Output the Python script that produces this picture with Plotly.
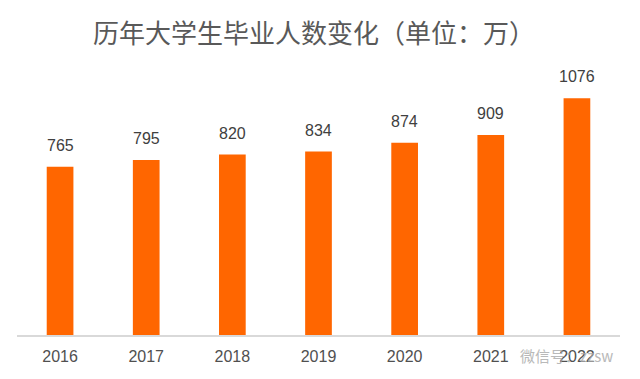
import plotly.graph_objects as go

years = ["2016", "2017", "2018", "2019", "2020", "2021", "2022"]
graduates = [765, 795, 820, 834, 874, 909, 1076]
title_text = "历年大学生毕业人数变化（单位：万）"
watermark_text = "微信号：zzsw"

NUM_FONT = "Liberation Sans, Arial, sans-serif"

fig = go.Figure(go.Bar(
    x=years,
    y=graduates,
    marker=dict(color="#FF6600", line=dict(width=0)),
))

# value labels: category axis -> reference the category by its index
for i, v in enumerate(graduates):
    fig.add_annotation(
        x=i, y=v, text=str(v), showarrow=False,
        xanchor="center", yanchor="bottom", yshift=11,
        font=dict(family=NUM_FONT, size=16, color="#404040"),
    )

# faint watermark at the lower right, as in the source image
fig.add_annotation(
    xref="paper", yref="paper", x=(518 - 8 - 9) / 603, y=-(355 - 335) / 264,
    xanchor="left", yanchor="middle", text=watermark_text, showarrow=False,
    font=dict(family="Noto Sans CJK SC, sans-serif", size=15, color="#A8A8A8"),
    opacity=0.8,
)

# page body has an 8px margin, so the figure is offset by 8px
fig.update_layout(
    width=632, height=371,
    margin=dict(l=9, r=20, t=63, b=44),
    paper_bgcolor="white",
    plot_bgcolor="white",
    bargap=0.69,
    showlegend=False,
    title=dict(
        text=title_text,
        x=306 / 632, xanchor="center",
        y=1 - 26 / 371, yanchor="middle",
        font=dict(family="Noto Sans CJK SC, sans-serif", size=26, color="#595959"),
    ),
    xaxis=dict(
        type="category", range=[-0.5, len(years) - 0.5], autorange=False,
        showline=True, linecolor="#D9D9D9", linewidth=1.5,
        showgrid=False, ticks="outside", ticklen=6, tickcolor="rgba(0,0,0,0)",
        tickfont=dict(family=NUM_FONT, size=16, color="#505050"),
    ),
    yaxis=dict(
        range=[0, 1200], visible=False, showgrid=False, zeroline=False,
    ),
)

fig.write_html("out.html")
